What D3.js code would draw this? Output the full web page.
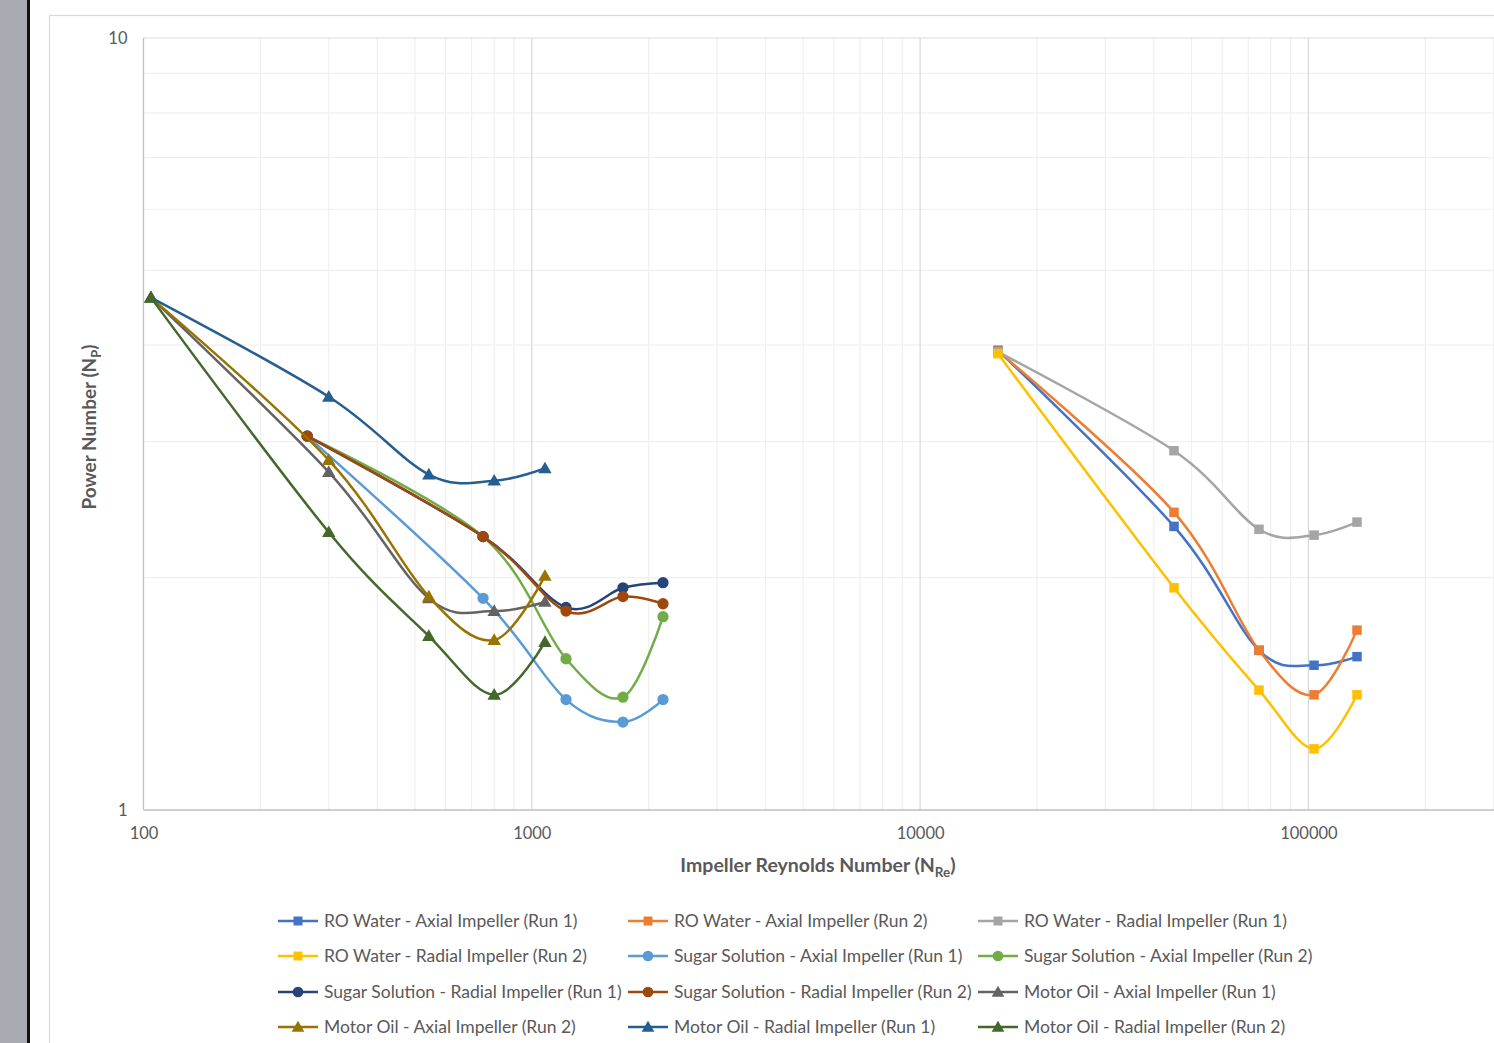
<!DOCTYPE html>
<html>
<head>
<meta charset="utf-8">
<script src="https://cdn.jsdelivr.net/npm/d3@7"></script>
<style>
  html, body { margin: 0; padding: 0; background: #fff; overflow: hidden; }
  svg { display: block; }
</style>
</head>
<body>
<svg id="chart" width="1494" height="1043"></svg>
<script>
// ---------------- DATA ----------------
const seriesNames = [
  "RO Water - Axial Impeller (Run 1)",
  "RO Water - Axial Impeller (Run 2)",
  "RO Water - Radial Impeller (Run 1)",
  "RO Water - Radial Impeller (Run 2)",
  "Sugar Solution - Axial Impeller (Run 1)",
  "Sugar Solution - Axial Impeller (Run 2)",
  "Sugar Solution - Radial Impeller (Run 1)",
  "Sugar Solution - Radial Impeller (Run 2)",
  "Motor Oil - Axial Impeller (Run 1)",
  "Motor Oil - Axial Impeller (Run 2)",
  "Motor Oil - Radial Impeller (Run 1)",
  "Motor Oil - Radial Impeller (Run 2)"
];

// Impeller Reynolds numbers (x)
const roWaterRe   = [15870, 45070, 74600, 103400, 133400];
const sugarRe     = [264, 749, 1225, 1717, 2177];
const motorOilRe  = [104.5, 300, 543, 800, 1081];

// Power numbers (y)
const roAxial1    = [3.94, 2.33, 1.61, 1.54, 1.58];
const roAxial2    = [3.93, 2.43, 1.61, 1.41, 1.71];
const roRadial1   = [3.92, 2.92, 2.31, 2.27, 2.36];
const roRadial2   = [3.90, 1.94, 1.43, 1.20, 1.41];
const sugarAxial1 = [3.05, 1.88, 1.39, 1.30, 1.39];
const sugarAxial2 = [3.05, 2.26, 1.57, 1.40, 1.78];
const sugarRadial1= [3.05, 2.26, 1.83, 1.94, 1.97];
const sugarRadial2= [3.05, 2.26, 1.81, 1.89, 1.85];
const oilAxial1   = [4.61, 2.74, 1.88, 1.81, 1.86];
const oilAxial2   = [4.61, 2.84, 1.89, 1.66, 2.01];
const oilRadial1  = [4.61, 3.43, 2.72, 2.67, 2.77];
const oilRadial2  = [4.61, 2.29, 1.68, 1.41, 1.65];

const xTickLabels = ["100", "1000", "10000", "100000"];
const yTickLabels = ["1", "10"];

// ---------------- STYLE ----------------
const seriesColors = ["#4472C4","#ED7D31","#A5A5A5","#FFC000","#5B9BD5","#70AD47",
                      "#264478","#9E480E","#636363","#997300","#255E91","#43682B"];
const seriesShapes = ["square","square","square","square","circle","circle",
                      "circle","circle","triangle","triangle","triangle","triangle"];
const seriesX = [roWaterRe, roWaterRe, roWaterRe, roWaterRe, sugarRe, sugarRe,
                 sugarRe, sugarRe, motorOilRe, motorOilRe, motorOilRe, motorOilRe];
const seriesY = [roAxial1, roAxial2, roRadial1, roRadial2, sugarAxial1, sugarAxial2,
                 sugarRadial1, sugarRadial2, oilAxial1, oilAxial2, oilRadial1, oilRadial2];

const series = seriesNames.map((name, i) => ({
  name, color: seriesColors[i], shape: seriesShapes[i],
  points: seriesX[i].map((x, j) => ({ x, y: seriesY[i][j] }))
}));

// ---------------- LAYOUT ----------------
const svg = d3.select("#chart");
const W = 1494, H = 1043;
const FONT = "Lato, 'Open Sans', sans-serif";
const TXT = "#595959";

// left app sidebar
svg.append("rect").attr("x", 0).attr("y", 0).attr("width", 27).attr("height", H).attr("fill", "#a7aab1");
svg.append("rect").attr("x", 27).attr("y", 0).attr("width", 3).attr("height", H).attr("fill", "#111");

// chart area border
svg.append("rect").attr("x", 49.5).attr("y", 15.5).attr("width", 1700).attr("height", 1100)
  .attr("fill", "#fff").attr("stroke", "#d9d9d9").attr("stroke-width", 1.2);

const plot = { left: 143.5, top: 38, bottom: 810 };
const decade = 388.3;
const x = d3.scaleLog().domain([100, 1e6]).range([plot.left, plot.left + 4 * decade]);
const y = d3.scaleLog().domain([1, 10]).range([plot.bottom, plot.top]);
const plotRight = x(1e6);

const g = svg.append("g");

// minor gridlines
const minorX = [];
[100, 1000, 10000, 100000].forEach(d => { for (let k = 2; k <= 9; k++) minorX.push(d * k); });
g.selectAll(".vminor").data(minorX).enter().append("line")
  .attr("x1", d => x(d)).attr("x2", d => x(d)).attr("y1", plot.top).attr("y2", plot.bottom)
  .attr("stroke", "#f0f0f0").attr("stroke-width", 1.2);
const minorY = d3.range(2, 10);
g.selectAll(".hminor").data(minorY).enter().append("line")
  .attr("x1", plot.left).attr("x2", plotRight).attr("y1", d => y(d)).attr("y2", d => y(d))
  .attr("stroke", "#f0f0f0").attr("stroke-width", 1.2);

// major gridlines
g.selectAll(".vmajor").data([1000, 10000, 100000, 1e6]).enter().append("line")
  .attr("x1", d => x(d)).attr("x2", d => x(d)).attr("y1", plot.top).attr("y2", plot.bottom)
  .attr("stroke", "#d9d9d9").attr("stroke-width", 1.2);
g.append("line").attr("x1", plot.left).attr("x2", plotRight).attr("y1", y(10)).attr("y2", y(10))
  .attr("stroke", "#d9d9d9").attr("stroke-width", 1.2);

// axis lines
g.append("line").attr("x1", plot.left).attr("x2", plot.left).attr("y1", plot.top).attr("y2", plot.bottom)
  .attr("stroke", "#bfbfbf").attr("stroke-width", 1.3);
g.append("line").attr("x1", plot.left).attr("x2", plotRight).attr("y1", plot.bottom).attr("y2", plot.bottom)
  .attr("stroke", "#bfbfbf").attr("stroke-width", 1.3);

// tick labels via d3 axes
const xAxis = d3.axisBottom(x).tickValues([100, 1000, 10000, 100000])
  .tickFormat((d, i) => xTickLabels[i]).tickSize(0).tickPadding(17);
const xa = svg.append("g").attr("transform", `translate(0,${plot.bottom})`).call(xAxis);
xa.select(".domain").remove();
xa.selectAll("text").attr("fill", TXT).style("font-family", FONT).style("font-size", "16.5px");

const yAxis = d3.axisLeft(y).tickValues([1, 10])
  .tickFormat((d, i) => yTickLabels[i]).tickSize(0).tickPadding(16);
const ya = svg.append("g").attr("transform", `translate(${plot.left},0)`).call(yAxis);
ya.select(".domain").remove();
ya.selectAll("text").attr("fill", TXT).style("font-family", FONT).style("font-size", "16.5px");

// axis titles
const xt = svg.append("text").attr("x", 818).attr("y", 872).attr("text-anchor", "middle")
  .attr("fill", TXT).style("font-family", FONT).style("font-size", "19.5px").style("font-weight", "bold");
xt.append("tspan").text("Impeller Reynolds Number (N");
xt.append("tspan").text("Re").attr("dy", 5).style("font-size", "13.5px");
xt.append("tspan").text(")").attr("dy", -5);

const yt = svg.append("text").attr("transform", "translate(96,427) rotate(-90)").attr("text-anchor", "middle")
  .attr("fill", TXT).style("font-family", FONT).style("font-size", "19px").style("font-weight", "bold");
yt.append("tspan").text("Power Number (N");
yt.append("tspan").text("P").attr("dy", 5).style("font-size", "13px");
yt.append("tspan").text(")").attr("dy", -5);

// symbols
function symbolFor(shape, scale) {
  const s = scale || 1;
  if (shape === "square") return d3.symbol().type(d3.symbolSquare).size(90 * s)();
  if (shape === "circle") return d3.symbol().type(d3.symbolCircle).size(100 * s)();
  return d3.symbol().type(d3.symbolTriangle).size(78 * s)();
}

const line = d3.line().x(d => x(d.x)).y(d => y(d.y)).curve(d3.curveCatmullRom.alpha(0));

const sg = svg.append("g").selectAll("g").data(series).enter().append("g");
sg.append("path").attr("d", d => line(d.points)).attr("fill", "none")
  .attr("stroke", d => d.color).attr("stroke-width", 2.5).attr("stroke-linejoin", "round");
sg.each(function (s) {
  d3.select(this).selectAll("path.m").data(s.points).enter().append("path").attr("class", "m")
    .attr("d", symbolFor(s.shape))
    .attr("transform", d => `translate(${x(d.x)},${y(d.y) + (s.shape === "triangle" ? 1 : 0)})`)
    .attr("fill", s.color);
});

// legend
const legColX = [278, 628, 978];
const legRowY = [921, 956, 992, 1027];
const lg = svg.append("g").selectAll("g").data(series).enter().append("g")
  .attr("transform", (d, i) => `translate(${legColX[i % 3]},${legRowY[Math.floor(i / 3)]})`);
lg.append("line").attr("x1", 0).attr("x2", 40).attr("y1", 0).attr("y2", 0)
  .attr("stroke", d => d.color).attr("stroke-width", 2.5);
lg.append("path").attr("d", d => symbolFor(d.shape, 0.9))
  .attr("transform", d => `translate(20,${d.shape === "triangle" ? 1 : 0})`).attr("fill", d => d.color);
lg.append("text").attr("x", 46).attr("y", 0).attr("dy", "0.35em").text(d => d.name)
  .attr("fill", TXT).style("font-family", FONT).style("font-size", "17.5px");
</script>
</body>
</html>
